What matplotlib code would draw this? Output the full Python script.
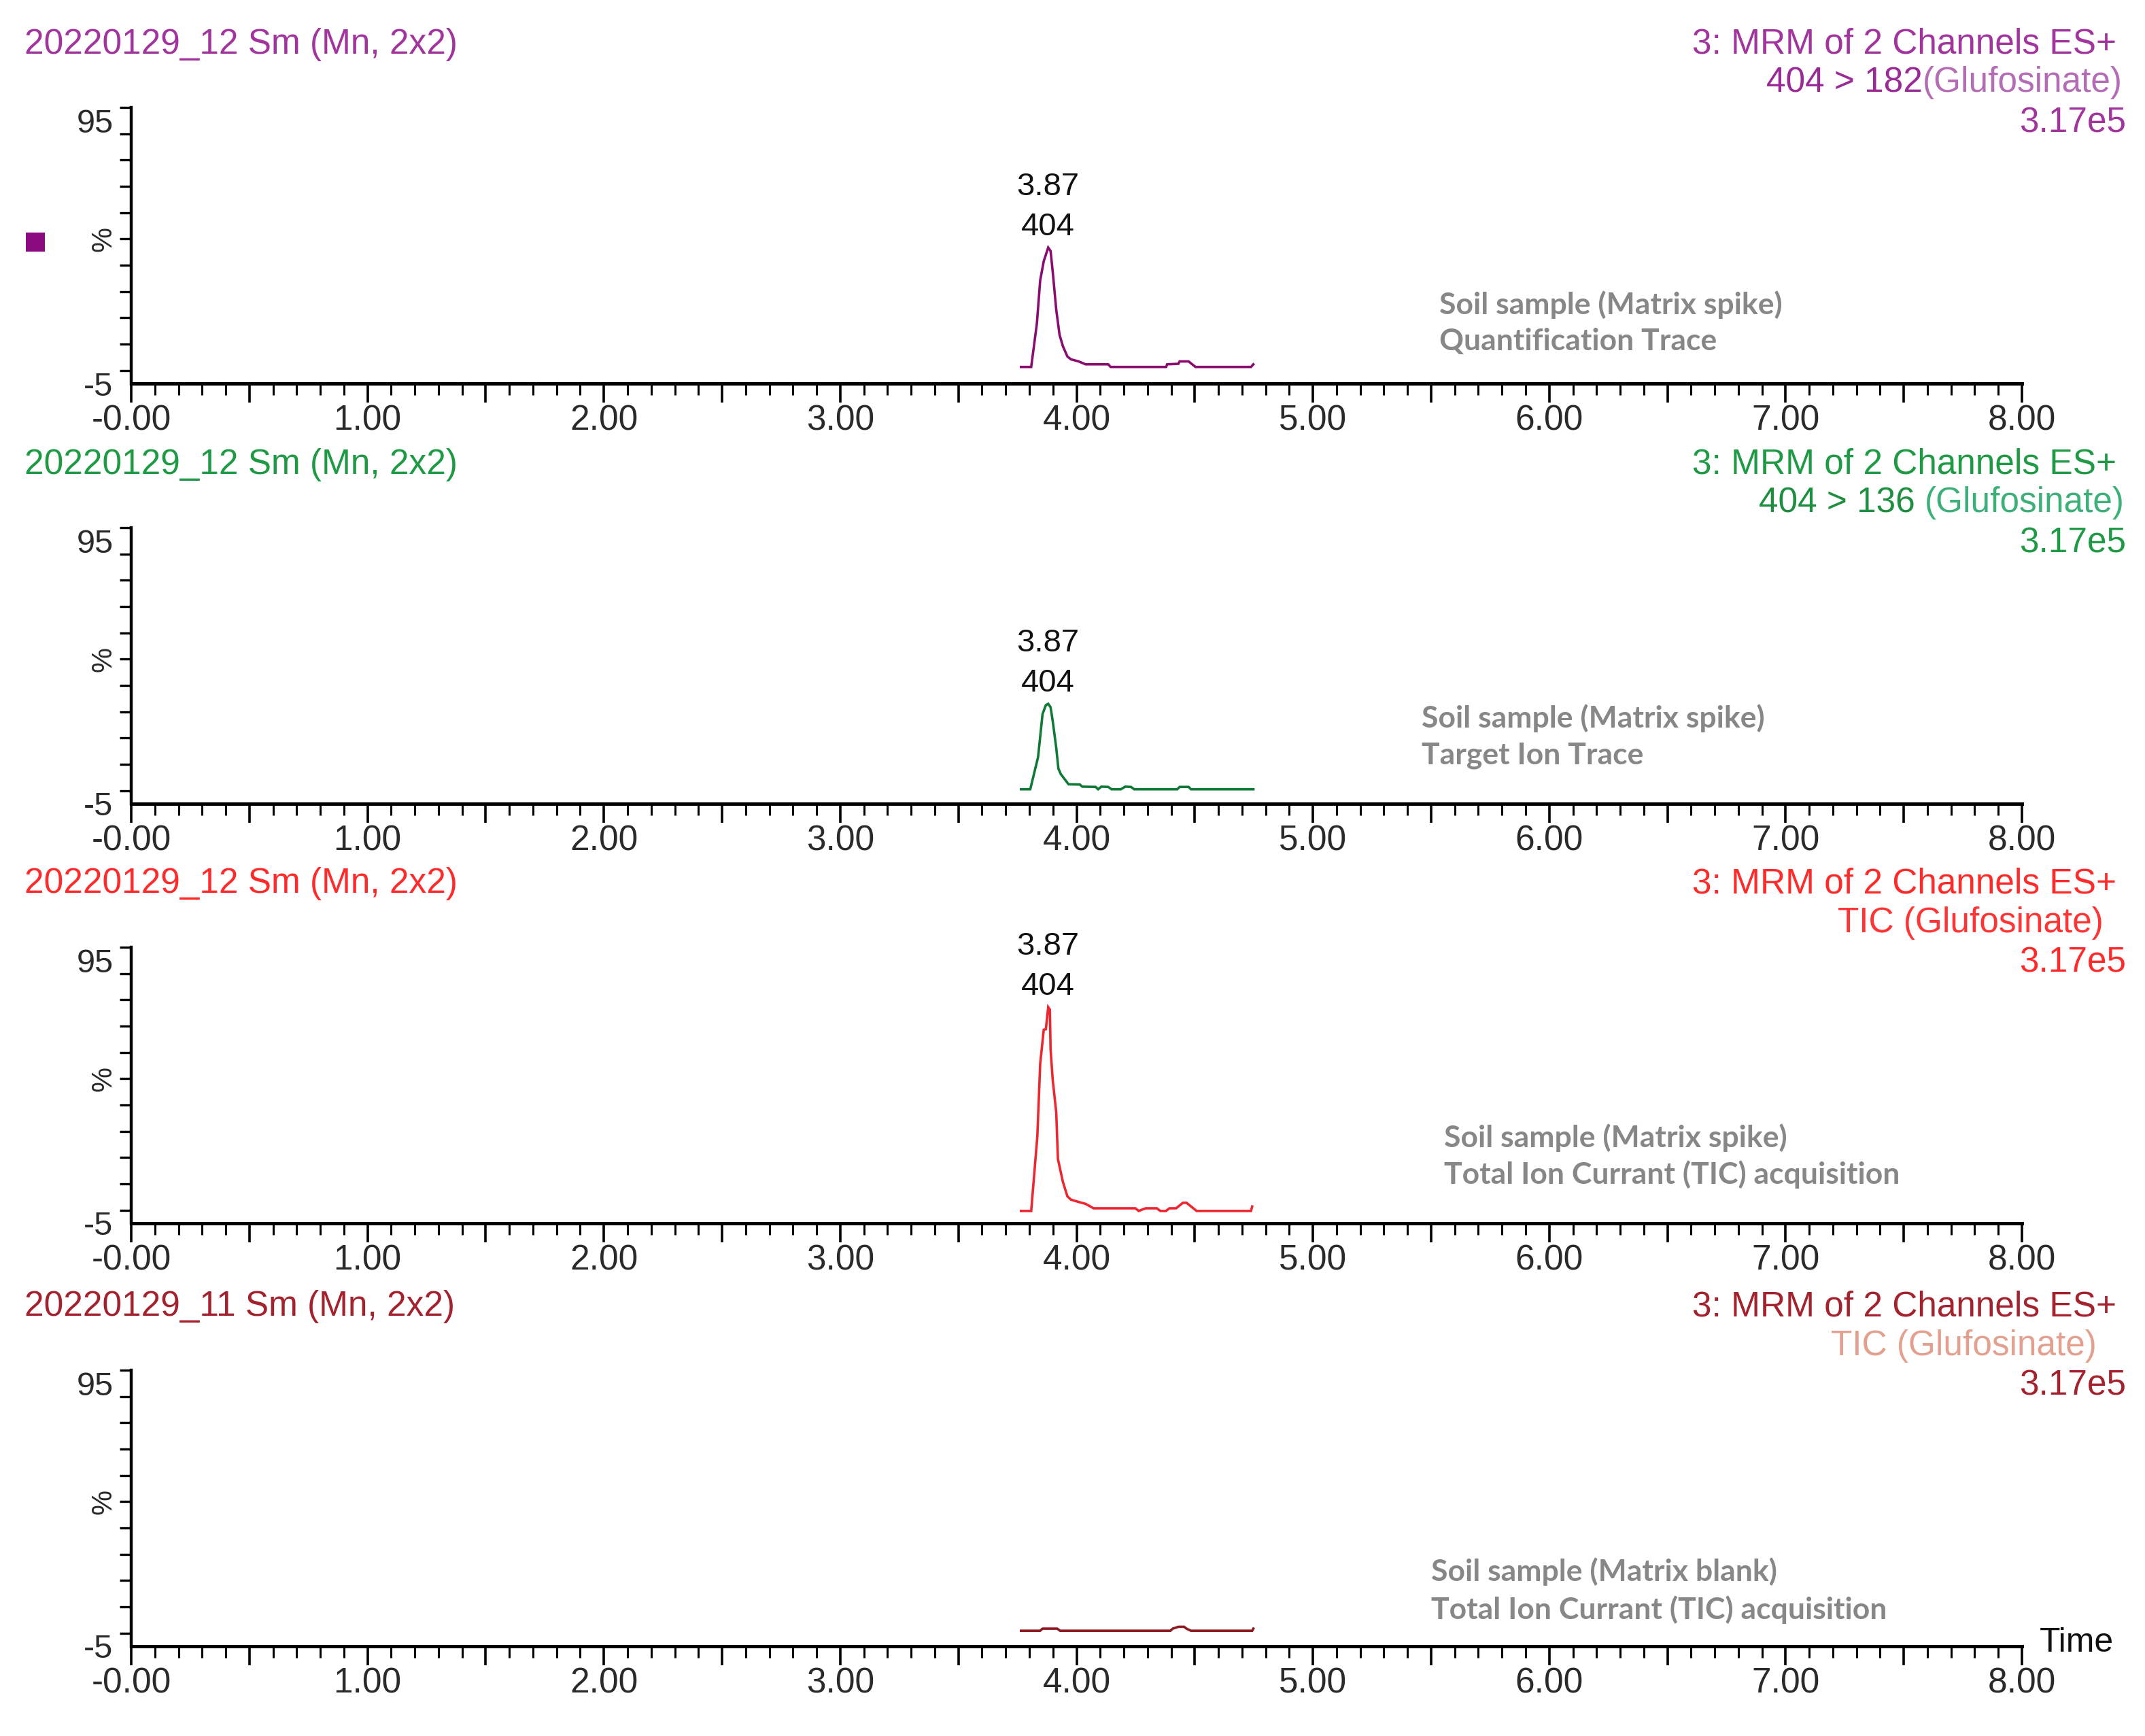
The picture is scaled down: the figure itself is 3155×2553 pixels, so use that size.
import matplotlib
matplotlib.use('Agg')
import matplotlib.pyplot as plt
from matplotlib import font_manager as fm
from matplotlib.ticker import FixedLocator, FixedFormatter, MultipleLocator

# ---------------- data ----------------
x_major_ticks = [0.0, 0.5, 1.0, 1.5, 2.0, 2.5, 3.0, 3.5, 4.0, 4.5, 5.0, 5.5, 6.0, 6.5, 7.0, 7.5, 8.0]
x_major_labels = ['-0.00', '', '1.00', '', '2.00', '', '3.00', '', '4.00', '', '5.00', '', '6.00', '', '7.00', '', '8.00']
y_tick_values = [-5, 95]
y_tick_labels = ['-5', '95']

sample_names = ['20220129_12 Sm (Mn, 2x2)', '20220129_12 Sm (Mn, 2x2)',
                '20220129_12 Sm (Mn, 2x2)', '20220129_11 Sm (Mn, 2x2)']
function_labels = ['3: MRM of 2 Channels ES+'] * 4
channel_prefix = ['404 > 182', '404 > 136 ', '', '']
channel_names = ['(Glufosinate)', '(Glufosinate)', 'TIC (Glufosinate)', 'TIC (Glufosinate)']
intensity_labels = ['3.17e5', '3.17e5', '3.17e5', '3.17e5']
peak_rt_labels = ['3.87', '3.87', '3.87', None]
peak_area_labels = ['404', '404', '404', None]
peak_rt = [3.880, 3.880, 3.880, None]
peak_int = [46.7, 33.0, 77.2, None]
descriptions = [('Soil sample (Matrix spike)', 'Quantification Trace'),
                ('Soil sample (Matrix spike)', 'Target Ion Trace'),
                ('Soil sample (Matrix spike)', 'Total Ion Currant (TIC) acquisition'),
                ('Soil sample (Matrix blank)', 'Total Ion Currant (TIC) acquisition')]

p1_time = [3.765, 3.808, 3.832, 3.846, 3.861, 3.880, 3.890, 3.899, 3.914, 3.928, 3.942, 3.961,
           3.976, 4.009, 4.038, 4.134, 4.144, 4.379, 4.383, 4.431, 4.436, 4.474, 4.503, 4.738, 4.748]
p1_int = [1.3, 1.3, 17.8, 34.2, 41.5, 46.7, 45.4, 37.6, 23.0, 13.5, 9.2, 5.3,
          4.2, 3.4, 2.3, 2.3, 1.3, 1.3, 2.3, 2.5, 3.4, 3.4, 1.3, 1.3, 2.3]

p2_time = [3.765, 3.804, 3.837, 3.856, 3.870, 3.880, 3.890, 3.899, 3.914, 3.923, 3.933, 3.966,
           4.014, 4.024, 4.081, 4.091, 4.105, 4.134, 4.148, 4.187, 4.206, 4.230, 4.244, 4.426,
           4.436, 4.474, 4.484, 4.748]
p2_int = [0.5, 0.5, 12.7, 29.1, 32.5, 33.0, 31.7, 26.5, 16.2, 8.4, 6.3, 2.4,
          2.3, 1.5, 1.4, 0.5, 1.5, 1.4, 0.5, 0.5, 1.5, 1.4, 0.5, 0.5,
          1.4, 1.4, 0.5, 0.5]

p3_time = [3.765, 3.808, 3.834, 3.846, 3.861, 3.870, 3.880, 3.887, 3.890, 3.899, 3.914, 3.921,
           3.942, 3.961, 3.976, 4.009, 4.038, 4.072, 4.249, 4.263, 4.292, 4.340, 4.354, 4.378,
           4.393, 4.421, 4.450, 4.465, 4.508, 4.738, 4.743]
p3_int = [-0.3, -0.3, 28.1, 55.6, 68.6, 68.8, 77.2, 76.3, 61.2, 49.6, 37.1, 19.5,
          10.8, 5.3, 4.0, 3.1, 2.4, 0.7, 0.7, -0.3, 0.7, 0.7, -0.3, -0.3,
          0.7, 0.7, 2.8, 2.8, -0.3, -0.3, 1.4]

p4_time = [3.765, 3.846, 3.856, 3.918, 3.930, 4.397, 4.407, 4.431, 4.455, 4.465, 4.484, 4.743, 4.748]
p4_int = [0.9, 0.9, 1.7, 1.7, 0.9, 0.9, 1.7, 2.4, 2.4, 1.7, 0.9, 0.9, 1.7]

traces_time = [p1_time, p2_time, p3_time, p4_time]
traces_int = [p1_int, p2_int, p3_int, p4_int]

# ---------------- style ----------------
header_colors = ['#A2349E', '#1E9A45', '#FF2B2B', '#A3222E']
prefix_colors = ['#9A2A96', '#1E8F40', '#FF2B2B', '#A3222E']
channel_colors = ['#B46DB4', '#3DB07A', '#FF3535', '#E3A08E']
line_colors = ['#8A0C6E', '#0E7A36', '#EE2630', '#8E1A22']
desc_color = '#878787'

try:
    fm.findfont(fm.FontProperties(family='Liberation Sans Narrow'), fallback_to_default=False)
    MAIN = ['Liberation Sans Narrow', 'Liberation Sans']
    FS = 45
except Exception:
    MAIN = ['Liberation Sans']
    FS = 37

W, H = 3155, 2553
fig = plt.figure(figsize=(W / 100, H / 100), dpi=100)
fig.patch.set_facecolor('white')

AX_LEFT, AX_RIGHT = 193, 2974
AX_BOTTOMS = [564, 1182, 1799, 2421]
AX_H = 406


def fx(x):
    return x / W


def fy(y):
    return 1 - y / H


renderer = fig.canvas.get_renderer()

for i in range(4):
    b = AX_BOTTOMS[i]
    ax = fig.add_axes([fx(AX_LEFT), fy(b), (AX_RIGHT - AX_LEFT) / W, AX_H / H])
    ax.set_xlim(0, 8)
    ax.set_ylim(-5, 100)
    ax.patch.set_alpha(0)
    for s in ['top', 'right']:
        ax.spines[s].set_visible(False)
    ax.spines['left'].set_linewidth(3.2)
    ax.spines['bottom'].set_linewidth(3.6)
    ax.spines['left'].set_capstyle('projecting')

    ax.plot(traces_time[i], traces_int[i], color=line_colors[i], lw=2.6, solid_joinstyle='miter')

    ax.xaxis.set_major_locator(FixedLocator(x_major_ticks))
    ax.xaxis.set_major_formatter(FixedFormatter(x_major_labels))
    ax.xaxis.set_minor_locator(MultipleLocator(0.1))
    ax.tick_params(axis='x', which='major', length=20, width=2.6, direction='out', pad=2,
                   labelsize=FS, labelcolor='#2a2a2a')
    ax.tick_params(axis='x', which='minor', length=12, width=2.2, direction='out')
    for lab in ax.get_xticklabels():
        lab.set_family(MAIN)

    ax.yaxis.set_major_locator(FixedLocator(y_tick_values))
    ax.yaxis.set_major_formatter(FixedFormatter(y_tick_labels))
    ax.yaxis.set_minor_locator(FixedLocator([0, 10, 20, 30, 40, 50, 60, 70, 80, 90, 100]))
    ax.tick_params(axis='y', which='major', length=0, pad=19, labelsize=FS - 2, labelcolor='#2a2a2a')
    ax.tick_params(axis='y', which='minor', length=12, width=2.4, direction='out')
    for lab in ax.get_yticklabels():
        lab.set_family(MAIN)

    # % label
    ax.text(-0.0145, 50, '%', rotation=90, ha='center', va='center', fontsize=FS - 7,
            family=MAIN, color='#2a2a2a', transform=ax.get_yaxis_transform())

    # peak labels
    if peak_rt_labels[i] is not None:
        ax.annotate(peak_area_labels[i], xy=(peak_rt[i], peak_int[i]), xytext=(0, 22),
                    textcoords='offset points', ha='center', va='center', fontsize=FS - 3,
                    family=MAIN, color='#111111')
        ax.annotate(peak_rt_labels[i], xy=(peak_rt[i], peak_int[i]), xytext=(0, 64),
                    textcoords='offset points', ha='center', va='center', fontsize=FS - 3,
                    family=MAIN, color='#111111')

    # descriptions
    dx = [5.535, 5.46, 5.555, 5.50][i]
    dy = [(25.0, 11.0), (27.6, 13.4), (27.6, 13.6), (23.4, 9.0)][i]
    ax.text(dx, dy[0], descriptions[i][0], ha='left', va='center', fontsize=32,
            family=['Lato', 'DejaVu Sans'], weight='bold', color=desc_color)
    ax.text(dx, dy[1], descriptions[i][1], ha='left', va='center', fontsize=32,
            family=['Lato', 'DejaVu Sans'], weight='bold', color=desc_color)

    # headers
    fig.text(fx(36), fy(b - 499), sample_names[i], ha='left', va='center', fontsize=FS,
             family=MAIN, color=header_colors[i])
    fig.text(fx(3113), fy(b - 499), function_labels[i], ha='right', va='center', fontsize=FS,
             family=MAIN, color=header_colors[i])
    r2 = [3122, 3125, 3094, 3084][i]
    tB = fig.text(fx(r2), fy(b - 442), channel_names[i], ha='right', va='center', fontsize=FS,
                  family=MAIN, color=channel_colors[i])
    if channel_prefix[i]:
        ext = tB.get_window_extent(renderer)
        fig.text(ext.x0 / W, fy(b - 442), channel_prefix[i], ha='right', va='center',
                 fontsize=FS, family=MAIN, color=prefix_colors[i])
    fig.text(fx(3127), fy(b - 383), intensity_labels[i], ha='right', va='center', fontsize=FS,
             family=MAIN, color=header_colors[i])

# small marker square near first panel
fig.patches.append(plt.Rectangle((fx(38), fy(370)), 28 / W, 28 / H, transform=fig.transFigure,
                                 facecolor='#8B0A7F', edgecolor='none'))

# Time label
fig.text(fx(3000), fy(2416), 'Time', ha='left', va='center', fontsize=FS - 1, family=MAIN,
         color='#111111')

fig.savefig('out.png', dpi=100, facecolor='white')
